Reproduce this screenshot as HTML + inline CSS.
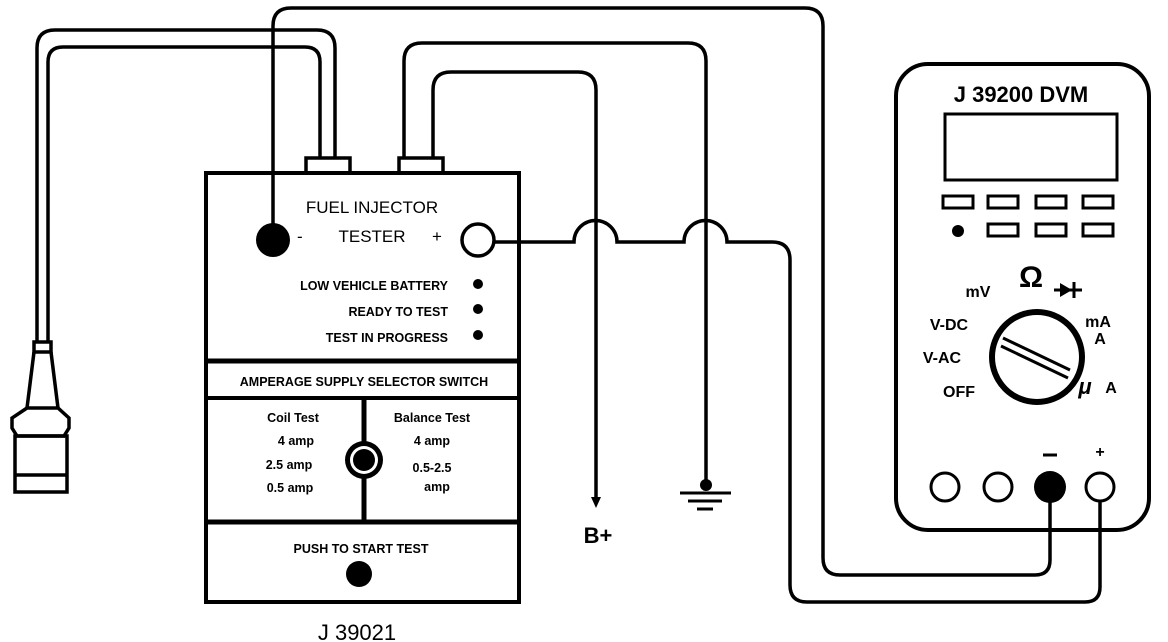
<!DOCTYPE html>
<html><head><meta charset="utf-8"><style>
html,body{margin:0;padding:0;background:#fff;}
svg{display:block;}
text{font-family:"Liberation Sans",sans-serif;font-weight:bold;fill:#000;}
</style></head><body>
<svg width="1168" height="642" viewBox="0 0 1168 642" xmlns="http://www.w3.org/2000/svg">
<g fill="none" stroke="#000" stroke-width="3.5">
<!-- left cable -->
<path d="M335 158 V48 Q335 30 317 30 H55 Q37 30 37 48 V342"/>
<path d="M320 158 V62 Q320 47 305 47 H63 Q48 47 48 62 V342"/>
<!-- plug -->
<rect x="34" y="342" width="17" height="10"/>
<path d="M34 352 L27 408 M51 352 L58 408"/>
<path d="M27 408 L12 418 L12 428 L17 436 H64 L69 428 L69 418 L58 408 Z"/>
<rect x="15" y="436" width="52" height="56"/>
<line x1="15" y1="475" x2="67" y2="475"/>
<!-- minus wire -->
<path d="M273 232 V26 Q273 8 291 8 H805 Q823 8 823 26 V558 Q823 575 840 575 H1035 Q1050 575 1050 560 V490"/>
<!-- right cable outer to ground -->
<path d="M404 158 V61 Q404 43 422 43 H688 Q706 43 706 61 V485"/>
<path d="M433 158 V90 Q433 72 451 72 H578 Q596 72 596 90 V500"/>
<!-- plus wire -->
<path d="M495 242 H574 A21 21 0 0 1 617 242 H684 A21 21 0 0 1 727 242 H772 Q790 242 790 260 V585 Q790 602 807 602 H1085 Q1100 602 1100 587 V502"/>
<!-- tester box -->
<rect x="206" y="173" width="313" height="429" stroke-width="4"/>
<rect x="306" y="158" width="44" height="15" stroke-width="3.5"/>
<rect x="399" y="158" width="44" height="15" stroke-width="3.5"/>
<line x1="206" y1="361" x2="519" y2="361" stroke-width="5"/>
<line x1="206" y1="398" x2="519" y2="398" stroke-width="4"/>
<line x1="364" y1="398" x2="364" y2="522" stroke-width="5"/>
<line x1="206" y1="522" x2="519" y2="522" stroke-width="5"/>
<circle cx="478" cy="240" r="16"/>
<!-- DVM -->
<rect x="896" y="64" width="253" height="466" rx="32" stroke-width="4"/>
<rect x="945" y="114" width="172" height="66" stroke-width="3"/>
<g stroke-width="3">
<rect x="943" y="196" width="30" height="12"/><rect x="988" y="196" width="30" height="12"/><rect x="1036" y="196" width="30" height="12"/><rect x="1083" y="196" width="30" height="12"/>
<rect x="988" y="224" width="30" height="12"/><rect x="1036" y="224" width="30" height="12"/><rect x="1083" y="224" width="30" height="12"/>
</g>
<circle cx="1037" cy="357" r="45" stroke-width="6"/>
<line x1="1003" y1="338" x2="1070" y2="370" stroke-width="3"/>
<line x1="1001" y1="346" x2="1068" y2="378" stroke-width="3"/>
<circle cx="945" cy="487" r="14" stroke-width="3"/>
<circle cx="998" cy="487" r="14" stroke-width="3"/>
<circle cx="1100" cy="487" r="14" stroke-width="3"/>
</g>
<g fill="#000">
<circle cx="273" cy="240" r="17"/>
<circle cx="478" cy="284" r="5"/><circle cx="478" cy="309" r="5"/><circle cx="478" cy="335" r="5"/>
<circle cx="364" cy="460" r="19"/>
<circle cx="364" cy="460" r="14" fill="#fff"/>
<circle cx="364" cy="460" r="11"/>
<circle cx="359" cy="574" r="13"/>
<circle cx="958" cy="231" r="6"/>
<circle cx="1050" cy="487" r="16"/>
<circle cx="706" cy="485" r="6"/>
<path d="M596 497 L591 497 L596 508 L601 497 Z"/>
<path d="M1060 283 L1072 290 L1060 297 Z"/>
</g>
<g stroke="#000" stroke-width="3">
<line x1="680" y1="493" x2="731" y2="493"/>
<line x1="688" y1="501" x2="722" y2="501"/>
<line x1="697" y1="509" x2="713" y2="509"/>
<line x1="1054" y1="290" x2="1082" y2="290"/>
<line x1="1074" y1="282" x2="1074" y2="298"/>
<line x1="1043" y1="455" x2="1057" y2="455"/>
</g>
<!-- tester text -->
<text x="372" y="213" font-size="17" text-anchor="middle" style="font-weight:normal">FUEL INJECTOR</text>
<text x="372" y="242" font-size="17" text-anchor="middle" style="font-weight:normal">TESTER</text>
<text x="297" y="242" font-size="17" style="font-weight:normal">-</text>
<text x="432" y="242" font-size="17" style="font-weight:normal">+</text>
<text x="448" y="290" font-size="12.5" text-anchor="end">LOW VEHICLE BATTERY</text>
<text x="448" y="316" font-size="12.5" text-anchor="end">READY TO TEST</text>
<text x="448" y="342" font-size="12.5" text-anchor="end">TEST IN PROGRESS</text>
<text x="364" y="386" font-size="12.5" text-anchor="middle">AMPERAGE SUPPLY SELECTOR SWITCH</text>
<g font-size="12.5" style="font-weight:normal">
<text x="293" y="422" text-anchor="middle">Coil Test</text>
<text x="296" y="445" text-anchor="middle">4 amp</text>
<text x="289" y="469" text-anchor="middle">2.5 amp</text>
<text x="290" y="492" text-anchor="middle">0.5 amp</text>
<text x="432" y="422" text-anchor="middle">Balance Test</text>
<text x="432" y="445" text-anchor="middle">4 amp</text>
<text x="432" y="472" text-anchor="middle">0.5-2.5</text>
<text x="437" y="491" text-anchor="middle">amp</text>
</g>
<text x="361" y="553" font-size="12.5" text-anchor="middle">PUSH TO START TEST</text>
<text x="357" y="640" font-size="22" text-anchor="middle" style="font-weight:normal">J 39021</text>
<text x="598" y="543" font-size="22" text-anchor="middle">B+</text>
<!-- DVM text -->
<text x="1021" y="102" font-size="22" text-anchor="middle">J 39200 DVM</text>
<text x="978" y="297" font-size="16" text-anchor="middle">mV</text>
<text x="1031" y="287" font-size="30" text-anchor="middle">Ω</text>
<text x="949" y="330" font-size="16" text-anchor="middle">V-DC</text>
<text x="942" y="363" font-size="16" text-anchor="middle">V-AC</text>
<text x="959" y="397" font-size="16" text-anchor="middle">OFF</text>
<text x="1098" y="327" font-size="16" text-anchor="middle">mA</text>
<text x="1100" y="344" font-size="16" text-anchor="middle">A</text>
<text x="1085" y="394" font-size="22" text-anchor="middle" style="font-style:italic">μ</text>
<text x="1111" y="393" font-size="16" text-anchor="middle">A</text>
<text x="1100" y="457" font-size="16" text-anchor="middle">+</text>
</svg>
</body></html>
